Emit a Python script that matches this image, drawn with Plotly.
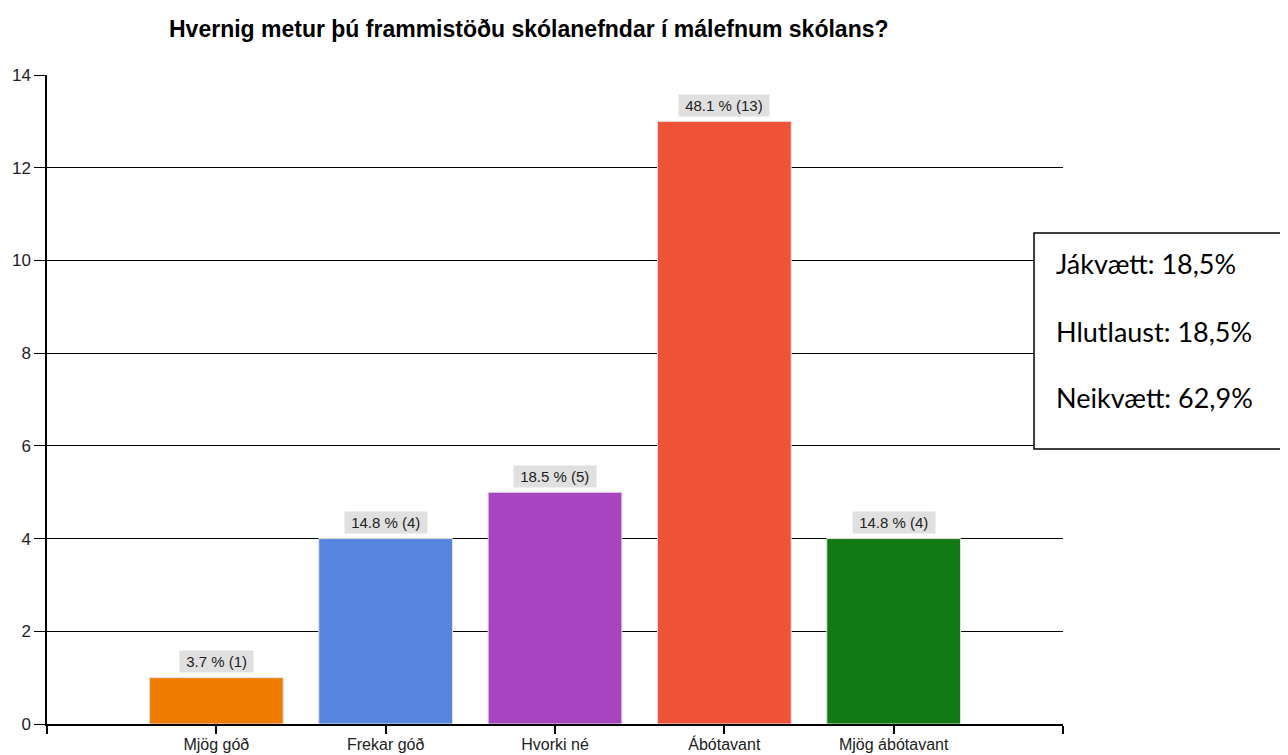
import plotly.graph_objects as go

categories = ["Mjög góð", "Frekar góð", "Hvorki né", "Ábótavant", "Mjög ábótavant"]
counts = [1, 4, 5, 13, 4]
pct_labels = ["3.7", "14.8", "18.5", "48.1", "14.8"]
bar_colors = ["#F07D00", "#5684DF", "#A944C1", "#EE5237", "#137A13"]
summary_lines = ["Jákvætt: 18,5%", "Hlutlaust: 18,5%", "Neikvætt: 62,9%"]
title_text = "Hvernig metur þú frammistöðu skólanefndar í málefnum skólans?"

# page-pixel geometry of the plot area (reference)
PX0, PX1, PY0, PY1 = 47, 1063, 75, 724
PW, PH = PX1 - PX0, PY1 - PY0
BODY = 8  # default body margin of the html page


def px(xp):
    return (xp - PX0) / PW


def py(yp):
    return (PY1 - yp) / PH


xpos = list(range(len(categories)))

fig = go.Figure()
fig.add_trace(go.Bar(
    x=xpos, y=counts, width=0.79,
    marker=dict(color=bar_colors, line=dict(color="#E2E2E2", width=1)),
    hoverinfo="skip", showlegend=False,
))

for i, (c, p) in enumerate(zip(counts, pct_labels)):
    fig.add_annotation(
        x=i, y=c, xref="x", yref="y", text=f"&nbsp;{p} % ({c})&nbsp;",
        showarrow=False, yshift=16, bgcolor="#E0E0E0", borderpad=2,
        font=dict(family="Liberation Sans", size=15, color="#222"),
    )

# summary box
fig.add_shape(type="rect", xref="paper", yref="paper",
              x0=px(1034), x1=px(1287), y0=py(449), y1=py(233),
              fillcolor="white", line=dict(color="black", width=1.5), layer="above")
for k, line in enumerate(summary_lines):
    ypix = [263, 331, 398][k]
    fig.add_annotation(
        xref="paper", yref="paper", x=px(1054), y=py(ypix),
        xanchor="left", yanchor="middle", text=line, showarrow=False,
        font=dict(family="Lato", size=27, color="black"),
    )

fig.add_annotation(
    xref="paper", yref="paper", x=px(529), y=py(29),
    xanchor="center", yanchor="middle", text=f"<b>{title_text}</b>", showarrow=False,
    font=dict(family="Liberation Sans", size=23, color="black"),
)

fig.update_layout(
    width=1288 - BODY, height=755 - BODY, autosize=False,
    margin=dict(l=PX0 - BODY, r=1288 - PX1, t=PY0 - BODY, b=755 - PY1, autoexpand=False),
    plot_bgcolor="white", paper_bgcolor="white",
    xaxis=dict(
        range=[-1, 5], tickmode="array", tickvals=list(range(-1, 6)),
        ticktext=[""] + categories + [""],
        showgrid=False, zeroline=False, showline=True, linecolor="black", linewidth=1.5,
        ticks="outside", ticklen=8, tickcolor="black", tickwidth=1.5,
        tickfont=dict(family="Liberation Sans", size=16, color="#222"),
        ticklabelstandoff=-3,
        automargin=False,
    ),
    yaxis=dict(
        range=[0, 14], tickmode="array", tickvals=list(range(0, 15, 2)),
        showgrid=True, gridcolor="black", gridwidth=1.2, zeroline=False,
        showline=True, linecolor="black", linewidth=1.5,
        ticks="outside", ticklen=11, tickcolor="black", tickwidth=1.2,
        tickfont=dict(family="Liberation Sans", size=17, color="#222"),
        automargin=False,
    ),
)

fig.write_html("out.html")
